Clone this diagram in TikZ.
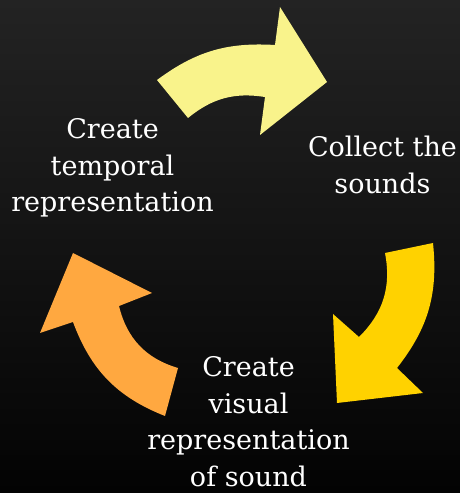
\documentclass[tikz,border=0pt]{standalone}
\usepackage{fontspec}
\setmainfont{DejaVu Serif}
\definecolor{bgtop}{RGB}{35,35,35}
\definecolor{bgbot}{RGB}{3,3,3}
\definecolor{arrowA}{RGB}{249,243,139}
\definecolor{arrowB}{RGB}{255,210,0}
\definecolor{arrowC}{RGB}{255,168,64}
\begin{document}
\begin{tikzpicture}[x=1pt,y=1pt,
  lbl/.style={text=white, align=center, inner sep=0pt, font=\fontsize{27}{36.5}\selectfont}]
\useasboundingbox (0,0) rectangle (460,493);
\shade[top color=bgtop, bottom color=bgbot] (0,0) rectangle (460,493);
% top arrow
\fill[arrowA] (157,413) to[bend left=20] (275,448) -- (280,486) -- (327,411) -- (260,358) -- (265,396) to[bend right=24] (188,375) -- cycle;
% right arrow
\fill[arrowB] (433,250) to[bend left=22] (397,125) -- (423,100) -- (337,90) -- (333,179) -- (359,156) to[bend right=28] (385,240) -- cycle;
% left arrow
\fill[arrowC] (165,77) to[bend left=24] (73,171) -- (40,160) -- (73,240) -- (152,200) -- (119,187) to[bend right=30] (178,125) -- cycle;
% labels
\node[lbl] (temporal) at (112.5,325) {Create\\temporal\\representation};
\node[lbl] (collect) at (382.5,328) {Collect the\\sounds};
\node[lbl] (visual) at (248.5,71.5) {Create\\visual\\representation\\of sound};
\end{tikzpicture}
\end{document}
